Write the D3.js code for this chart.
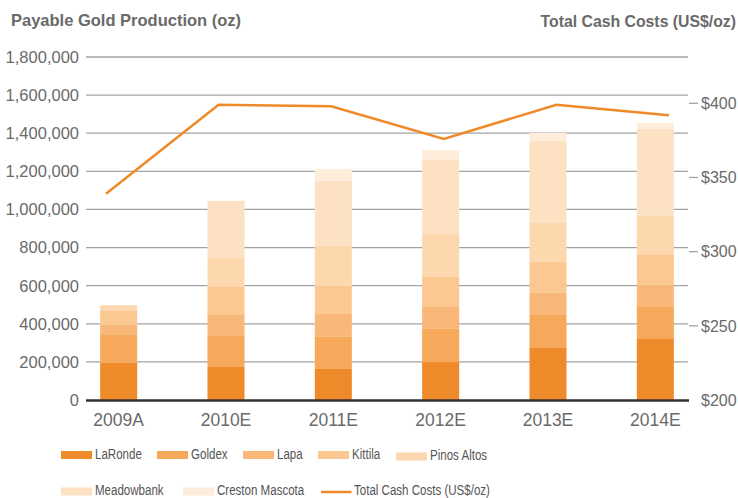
<!DOCTYPE html>
<html>
<head>
<meta charset="utf-8">
<script src="https://cdn.jsdelivr.net/npm/d3@7"></script>
<style>
  body { margin: 0; background: #fff; }
  text { font-family: "Liberation Sans", Arial, sans-serif; }
</style>
</head>
<body>
<div id="chart"></div>
<script>
// categories
var years = ["2009A", "2010E", "2011E", "2012E", "2013E", "2014E"];

// payable gold production by mine (oz)
var laRonde   = [195000, 173000, 163000, 199000, 273000, 320000];
var goldex    = [146000, 163000, 168000, 174000, 173000, 168000];
var lapa      = [ 53000, 110000, 120000, 115000, 116000, 116000];
var kittila   = [ 73000, 147000, 147000, 158000, 162000, 157000];
var pinosAlto = [ 30000, 152000, 210000, 225000, 205000, 205000];
var meadowbnk = [     0, 300000, 343000, 389000, 430000, 456000];
var creston   = [     0,      0,  62000,  52000,  42000,  32000];

// total cash costs (US$/oz)
var cashCosts = [339, 399, 398, 376, 399, 392];

var mines = ["LaRonde", "Goldex", "Lapa", "Kittila", "Pinos Altos", "Meadowbank", "Creston Mascota"];
var mineValues = [laRonde, goldex, lapa, kittila, pinosAlto, meadowbnk, creston];
var mineColors = ["#ee8a29", "#f6a95a", "#f9b877", "#fcc891", "#fdd7ae", "#fde1c3", "#feeddb"];
var lineColor = "#ee8a29";

var leftTicks = [0, 200000, 400000, 600000, 800000, 1000000, 1200000, 1400000, 1600000, 1800000];
var rightTicks = [200, 250, 300, 350, 400];

var width = 738, height = 498;

var svg = d3.select("#chart")
  .append("svg")
  .attr("width", width)
  .attr("height", height);

// build stacked table
var table = years.map(function (y, i) {
  var row = { year: y };
  mines.forEach(function (m, j) { row[m] = mineValues[j][i]; });
  return row;
});
var stacked = d3.stack().keys(mines)(table);

var x = d3.scaleBand()
  .domain(years)
  .range([65, 709])
  .paddingInner(0.655)
  .paddingOuter(0.3275);

var xLine = d3.scalePoint()
  .domain(years)
  .range([106, 669]);

var yLeft = d3.scaleLinear()
  .domain([0, 1800000])
  .range([400, 57]);

var yRight = d3.scaleLinear()
  .domain([200, 400])
  .range([400, 103.3]);

// gridlines
svg.append("g")
  .selectAll("line")
  .data(leftTicks.slice(1))
  .enter().append("line")
  .attr("x1", 86)
  .attr("x2", 688)
  .attr("y1", d => yLeft(d))
  .attr("y2", d => yLeft(d))
  .attr("stroke", "#a3a3a3")
  .attr("stroke-width", 1.3);

// left labels
svg.append("g")
  .selectAll("text")
  .data(leftTicks)
  .enter().append("text")
  .attr("x", 79)
  .attr("y", d => yLeft(d))
  .attr("dy", "0.36em")
  .attr("text-anchor", "end")
  .style("font-size", "16.5px")
  .style("fill", "#6a6a6a")
  .text(d => d3.format(",")(d));

// bars
svg.append("g")
  .selectAll("g")
  .data(stacked)
  .enter().append("g")
  .attr("fill", (d, i) => mineColors[i])
  .selectAll("rect")
  .data(d => d)
  .enter().append("rect")
  .attr("x", d => x(d.data.year))
  .attr("width", x.bandwidth())
  .attr("y", d => yLeft(d[1]))
  .attr("height", d => yLeft(d[0]) - yLeft(d[1]));

// baseline
svg.append("line")
  .attr("x1", 86)
  .attr("x2", 689)
  .attr("y1", 400.5)
  .attr("y2", 400.5)
  .attr("stroke", "#333")
  .attr("stroke-width", 2.5);

// right axis
svg.append("g")
  .selectAll("line")
  .data(rightTicks.slice(1))
  .enter().append("line")
  .attr("x1", 689)
  .attr("x2", 698)
  .attr("y1", d => yRight(d))
  .attr("y2", d => yRight(d))
  .attr("stroke", "#a3a3a3")
  .attr("stroke-width", 1.3);

svg.append("g")
  .selectAll("text")
  .data(rightTicks)
  .enter().append("text")
  .attr("x", 701)
  .attr("y", d => yRight(d))
  .attr("dy", "0.36em")
  .style("font-size", "16px")
  .style("fill", "#6a6a6a")
  .text(d => "$" + d);

// x labels
svg.append("g")
  .selectAll("text")
  .data(years)
  .enter().append("text")
  .attr("x", d => x(d) + x.bandwidth() / 2)
  .attr("y", 426)
  .attr("text-anchor", "middle")
  .style("font-size", "17.5px")
  .style("fill", "#6a6a6a")
  .text(d => d);

// cash cost line
var line = d3.line()
  .x((d, i) => xLine(years[i]))
  .y(d => yRight(d));

svg.append("path")
  .datum(cashCosts)
  .attr("d", line)
  .attr("fill", "none")
  .attr("stroke", lineColor)
  .attr("stroke-width", 2.5);

// titles
svg.append("text")
  .attr("x", 11)
  .attr("y", 26)
  .style("font-size", "16.5px")
  .style("font-weight", "bold")
  .style("fill", "#6a6a6a")
  .text("Payable Gold Production (oz)");

svg.append("text")
  .attr("x", 736)
  .attr("y", 26.5)
  .attr("text-anchor", "end")
  .style("font-size", "15.8px")
  .style("font-weight", "bold")
  .style("fill", "#6a6a6a")
  .text("Total Cash Costs (US$/oz)");

// legend
var legendPos = [
  [61, 451], [157, 451], [243, 451], [318, 451], [396, 452.5],
  [61, 487.5], [183, 487.5]
];

var legend = svg.append("g")
  .selectAll("g")
  .data(mines)
  .enter().append("g")
  .attr("transform", (d, i) => `translate(${legendPos[i][0]},${legendPos[i][1]})`);

legend.append("rect")
  .attr("width", 31)
  .attr("height", 8)
  .attr("fill", (d, i) => mineColors[i]);

legend.append("text")
  .attr("transform", "translate(34,7.5) scale(0.77,1)")
  .style("font-size", "15px")
  .style("fill", "#555")
  .text(d => d);

var lineLegend = svg.append("g")
  .attr("transform", "translate(321,492)");

lineLegend.append("line")
  .attr("x1", 0)
  .attr("x2", 30.5)
  .attr("stroke", lineColor)
  .attr("stroke-width", 2.5);

lineLegend.append("text")
  .attr("transform", "translate(33,3) scale(0.77,1)")
  .style("font-size", "15px")
  .style("fill", "#555")
  .text("Total Cash Costs (US$/oz)");
</script>
</body>
</html>
